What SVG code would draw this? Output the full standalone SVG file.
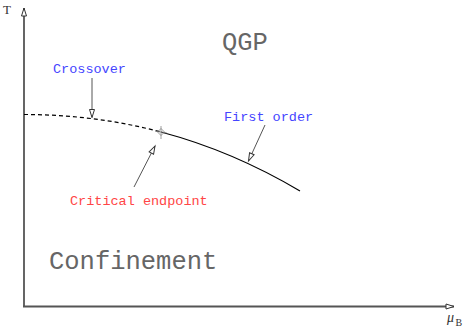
<svg xmlns="http://www.w3.org/2000/svg" width="469" height="332" viewBox="0 0 469 332">
<style>
.mono{font-family:"Liberation Mono","DejaVu Sans Mono",monospace}
.big{font-size:25.5px;fill:#666}
.lbl{font-size:13.5px}
.blue{fill:#4545ff}
.red{fill:#ff4545}
.ser{font-family:"Liberation Serif","DejaVu Serif",serif;fill:#333}
.axis{stroke:#555;stroke-width:1.8;fill:none}
.ptr{stroke:#555;stroke-width:1;fill:none}
.curve{stroke:#000;stroke-width:1.2;fill:none}
</style>
<defs>
<marker id="ah" markerUnits="userSpaceOnUse" markerWidth="12" markerHeight="8" refX="9" refY="4" orient="auto" viewBox="0 0 12 8">
<path d="M9,4 L1,1.5 L1,6.5 Z" fill="#fff" stroke="#333" stroke-width="1"/>
</marker>
</defs>
<g id="connectors">
<line class="axis" x1="24" y1="307" x2="24" y2="8" marker-end="url(#ah)"/>
<line class="axis" x1="23" y1="306.5" x2="454" y2="306.5" marker-end="url(#ah)"/>
<path class="curve" d="M24,114.5 C69.67,114.5 115.33,119.89 161,132" stroke-dasharray="4,3"/>
<path class="curve" d="M161,132 C207.33,144.29 253.67,163.49 300,191"/>
<line class="ptr" x1="92" y1="78" x2="92" y2="117.5" marker-end="url(#ah)"/>
<line class="ptr" x1="265" y1="125" x2="248.5" y2="161" marker-end="url(#ah)"/>
<line class="ptr" x1="134" y1="187" x2="155" y2="146" marker-end="url(#ah)"/>
</g>
<g id="critical-point" stroke="#777" stroke-width="0.7" fill="none">
<path d="M161,128.5 L164.5,132 L161,135.5 L157.5,132 Z"/>
<line x1="161" y1="126" x2="161" y2="139"/>
<line x1="155" y1="131" x2="167" y2="133"/>
</g>
<g id="label-T"><text class="ser" x="3" y="13.5" font-size="13">T</text></g>
<g id="label-muB"><text class="ser" x="447" y="322" font-size="14" font-style="italic">μ</text><text class="ser" x="455.5" y="326" font-size="10">B</text></g>
<g id="label-QGP"><text class="mono big" x="222" y="50">QGP</text></g>
<g id="label-Confinement"><text class="mono big" x="49" y="269">Confinement</text></g>
<g id="label-Crossover"><text class="mono lbl blue" x="53" y="72.5">Crossover</text></g>
<g id="label-FirstOrder"><text class="mono lbl blue" x="224" y="120.5">First order</text></g>
<g id="label-CriticalEndpoint"><text class="mono lbl red" x="70" y="205">Critical endpoint</text></g>
</svg>
